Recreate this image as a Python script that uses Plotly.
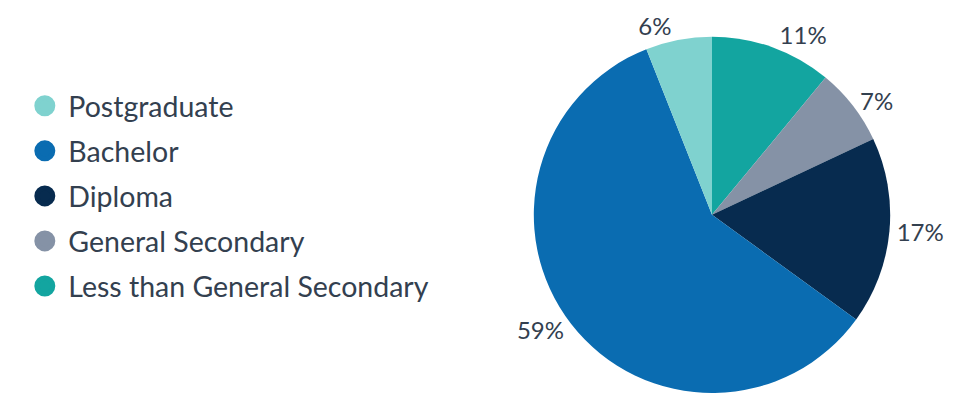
import plotly.graph_objects as go

# Share of respondents by highest education level
categories = ["Postgraduate", "Bachelor", "Diploma", "General Secondary",
              "Less than General Secondary"]
shares = [6, 59, 17, 7, 11]
share_labels = ["6%", "59%", "17%", "7%", "11%"]
colors = ["#7fd2cf", "#0a6cb1", "#072b4f", "#8592a6", "#13a5a0"]

FONT = "Lato"
TEXT_COLOR = "#33404f"

fig = go.Figure()

# Pie drawn clockwise from 12 o'clock, so the category order is reversed:
# "Less than General Secondary" sits right of the top, "Postgraduate" left of it
fig.add_trace(go.Pie(
    labels=categories[::-1],
    values=shares[::-1],
    text=share_labels[::-1],
    marker=dict(colors=colors[::-1], line=dict(width=0)),
    textinfo="text",
    textposition="outside",
    sort=False,
    direction="clockwise",
    rotation=0,
    textfont=dict(family=FONT, size=24, color=TEXT_COLOR),
    showlegend=False,
    hoverinfo="label+percent",
    domain=dict(x=[532 / 969, 892 / 969], y=[0.0025, 0.907]),
))

# Legend entries with round swatches (outline in the fill colour enlarges them),
# one group per entry for row spacing
for name, col in zip(categories, colors):
    fig.add_trace(go.Scatter(
        x=[None], y=[None], mode="markers", name=name,
        legendgroup=name,
        marker=dict(symbol="circle", size=24, color=col,
                    line=dict(width=5, color=col)),
        hoverinfo="skip",
    ))

fig.update_layout(
    width=969, height=398,
    margin=dict(l=0, r=0, t=0, b=0),
    paper_bgcolor="white",
    plot_bgcolor="white",
    xaxis=dict(visible=False),
    yaxis=dict(visible=False),
    legend=dict(
        x=0.022, y=0.795, xanchor="left", yanchor="top",
        font=dict(family=FONT, size=28.5, color=TEXT_COLOR),
        itemsizing="trace",
        tracegroupgap=5,
        itemwidth=37,
        bgcolor="rgba(0,0,0,0)",
    ),
)

fig.write_html("out.html")
